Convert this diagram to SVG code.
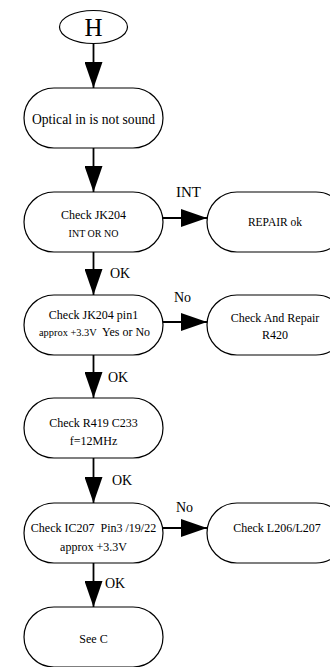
<svg xmlns="http://www.w3.org/2000/svg" width="330" height="667" viewBox="0 0 330 667">
<style>
.n{fill:#fff;stroke:#000;stroke-width:1.2}
.t{font-family:"Liberation Serif","Times New Roman",serif;fill:#000;text-anchor:middle}
.l{font-family:"Liberation Serif","Times New Roman",serif;fill:#000}
.c{stroke:#000;stroke-width:1.8;fill:none}
</style>
<defs>
<marker id="ah" markerUnits="userSpaceOnUse" markerWidth="26" markerHeight="18" refX="26" refY="9" orient="auto">
<path d="M0,0 L26,9 L0,18 Z" fill="#000"/>
</marker>
</defs>
<rect width="330" height="667" fill="#fff"/>
<g id="connectors">
<line class="c" x1="93.5" y1="43" x2="93.5" y2="88" marker-end="url(#ah)"/>
<line class="c" x1="93.5" y1="148" x2="93.5" y2="192" marker-end="url(#ah)"/>
<line class="c" x1="93.5" y1="252" x2="93.5" y2="295" marker-end="url(#ah)"/>
<line class="c" x1="93.5" y1="355" x2="93.5" y2="398" marker-end="url(#ah)"/>
<line class="c" x1="93.5" y1="458" x2="93.5" y2="503" marker-end="url(#ah)"/>
<line class="c" x1="93.5" y1="563" x2="93.5" y2="607" marker-end="url(#ah)"/>
<line class="c" x1="163" y1="218" x2="207" y2="218" marker-end="url(#ah)"/>
<line class="c" x1="163" y1="322" x2="207" y2="322" marker-end="url(#ah)"/>
<line class="c" x1="163" y1="528" x2="207" y2="528" marker-end="url(#ah)"/>
<text class="l" x="176" y="197" font-size="15">INT</text>
<text class="l" x="110" y="278" font-size="14">OK</text>
<text class="l" x="174" y="302" font-size="14">No</text>
<text class="l" x="108" y="382" font-size="14">OK</text>
<text class="l" x="112" y="485" font-size="14">OK</text>
<text class="l" x="176" y="512" font-size="14">No</text>
<text class="l" x="105" y="588" font-size="14">OK</text>
</g>
<g id="H">
<ellipse class="n" cx="93.5" cy="27" rx="34" ry="16.5"/>
<text class="t" x="93.5" y="35.5" font-size="25">H</text>
</g>
<g id="optical">
<rect class="n" x="24" y="88" width="139" height="60" rx="30"/>
<text class="t" x="93.5" y="123.5" font-size="13.6">Optical in is not sound</text>
</g>
<g id="jk204">
<rect class="n" x="24" y="192" width="139" height="60" rx="30"/>
<text class="t" x="93.5" y="219" font-size="12">Check JK204</text>
<text class="t" x="93.5" y="236.5" font-size="10">INT OR NO</text>
</g>
<g id="repair">
<rect class="n" x="207" y="192" width="139" height="60" rx="30"/>
<text class="t" x="275" y="226" font-size="11.5">REPAIR ok</text>
</g>
<g id="pin1">
<rect class="n" x="24" y="295" width="139" height="60" rx="30"/>
<text class="t" x="93.5" y="319" font-size="12">Check JK204 pin1</text>
<text class="l" x="39" y="336" font-size="10.4">approx +3.3V</text>
<text class="l" x="102" y="336" font-size="12">Yes or No</text>
</g>
<g id="r420">
<rect class="n" x="207" y="295" width="139" height="60" rx="30"/>
<text class="t" x="275" y="322" font-size="12">Check And Repair</text>
<text class="t" x="275" y="339" font-size="12">R420</text>
</g>
<g id="r419">
<rect class="n" x="24" y="398" width="139" height="60" rx="30"/>
<text class="t" x="93.5" y="427" font-size="12">Check R419 C233</text>
<text class="t" x="93.5" y="445" font-size="12">f=12MHz</text>
</g>
<g id="ic207">
<rect class="n" x="24" y="503" width="139" height="60" rx="30"/>
<text class="t" x="93.5" y="532" font-size="12" xml:space="preserve">Check IC207  Pin3 /19/22</text>
<text class="t" x="93.5" y="551" font-size="12">approx +3.3V</text>
</g>
<g id="l206">
<rect class="n" x="207" y="503" width="139" height="60" rx="30"/>
<text class="t" x="277" y="532" font-size="12">Check L206/L207</text>
</g>
<g id="seec">
<rect class="n" x="24" y="607" width="139" height="60" rx="30"/>
<text class="t" x="93.5" y="643" font-size="12">See C</text>
</g>
</svg>
